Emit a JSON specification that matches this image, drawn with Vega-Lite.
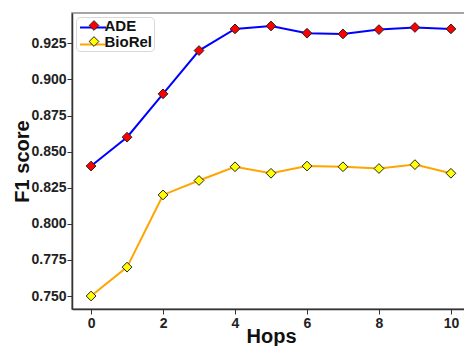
{
  "$schema": "https://vega.github.io/schema/vega-lite/v6.json",
  "width": 398,
  "height": 296,
  "padding": {"left": 12, "top": 13, "right": 0, "bottom": 0},
  "background": "white",
  "config": {
    "font": "Liberation Sans",
    "view": {"stroke": "#888888", "strokeWidth": 1.5},
    "axis": {
      "grid": false,
      "domainColor": "#333333",
      "domainWidth": 1.5,
      "tickColor": "#333333",
      "tickSize": 5,
      "tickWidth": 1,
      "labelFont": "Liberation Sans",
      "labelFontSize": 14,
      "labelFontWeight": "bold",
      "labelColor": "#222222",
      "titleFont": "Liberation Sans",
      "titleFontSize": 20,
      "titleFontWeight": "bold",
      "titleColor": "#111111"
    }
  },
  "data": {
    "values": [
      {"hops": 0, "series": "ADE", "f1": 0.840},
      {"hops": 1, "series": "ADE", "f1": 0.860},
      {"hops": 2, "series": "ADE", "f1": 0.890},
      {"hops": 3, "series": "ADE", "f1": 0.920},
      {"hops": 4, "series": "ADE", "f1": 0.935},
      {"hops": 5, "series": "ADE", "f1": 0.937},
      {"hops": 6, "series": "ADE", "f1": 0.932},
      {"hops": 7, "series": "ADE", "f1": 0.9315},
      {"hops": 8, "series": "ADE", "f1": 0.9345},
      {"hops": 9, "series": "ADE", "f1": 0.936},
      {"hops": 10, "series": "ADE", "f1": 0.935},
      {"hops": 0, "series": "BioRel", "f1": 0.750},
      {"hops": 1, "series": "BioRel", "f1": 0.770},
      {"hops": 2, "series": "BioRel", "f1": 0.820},
      {"hops": 3, "series": "BioRel", "f1": 0.830},
      {"hops": 4, "series": "BioRel", "f1": 0.8395},
      {"hops": 5, "series": "BioRel", "f1": 0.835},
      {"hops": 6, "series": "BioRel", "f1": 0.840},
      {"hops": 7, "series": "BioRel", "f1": 0.8395},
      {"hops": 8, "series": "BioRel", "f1": 0.8383},
      {"hops": 9, "series": "BioRel", "f1": 0.841},
      {"hops": 10, "series": "BioRel", "f1": 0.835}
    ]
  },
  "encoding": {
    "x": {
      "field": "hops",
      "type": "quantitative",
      "title": "Hops",
      "scale": {"domain": [-0.53, 10.53], "nice": false, "zero": false},
      "axis": {"values": [0, 2, 4, 6, 8, 10], "format": "d", "labelPadding": 2, "titlePadding": -4}
    },
    "y": {
      "field": "f1",
      "type": "quantitative",
      "title": "F1 score",
      "scale": {"domain": [0.741, 0.946], "nice": false, "zero": false},
      "axis": {"values": [0.75, 0.775, 0.8, 0.825, 0.85, 0.875, 0.9, 0.925], "format": ".3f", "labelPadding": 1, "titlePadding": -2}
    }
  },
  "layer": [
    {
      "transform": [{"filter": "datum.series === 'ADE'"}],
      "mark": {"type": "line", "strokeWidth": 2},
      "encoding": {
        "color": {
          "field": "series",
          "type": "nominal",
          "scale": {"range": ["#0000ff"]},
          "legend": {
            "title": null,
            "orient": "none",
            "legendX": 7,
            "legendY": 0.5,
            "padding": 0,
            "symbolType": "stroke",
            "symbolSize": 676,
            "symbolStrokeWidth": 2,
            "symbolOffset": 0,
            "labelExpr": "''",
            "labelFontSize": 15
          }
        }
      }
    },
    {
      "transform": [{"filter": "datum.series === 'BioRel'"}],
      "mark": {"type": "line", "strokeWidth": 2},
      "encoding": {
        "stroke": {
          "field": "series",
          "type": "nominal",
          "scale": {"range": ["#ffa500"]},
          "legend": {
            "title": null,
            "orient": "none",
            "legendX": 7,
            "legendY": 17.5,
            "padding": 0,
            "symbolType": "stroke",
            "symbolSize": 676,
            "symbolStrokeWidth": 2,
            "symbolOffset": 0,
            "labelExpr": "''",
            "labelFontSize": 15
          }
        }
      }
    },
    {
      "mark": {"type": "point", "shape": "diamond", "filled": true, "stroke": "#222222", "strokeWidth": 1, "size": 95, "opacity": 1},
      "encoding": {
        "fill": {
          "field": "series",
          "type": "nominal",
          "scale": {"domain": ["ADE", "BioRel"], "range": ["#ff0000", "#ffff00"]},
          "legend": {
            "title": null,
            "orient": "top-left",
            "offset": 4,
            "padding": 1,
            "strokeColor": "#d8d8d8",
            "cornerRadius": 4,
            "symbolType": "diamond",
            "symbolSize": 95,
            "symbolStrokeColor": "#222222",
            "symbolStrokeWidth": 1,
            "symbolOpacity": 1,
            "symbolOffset": 9.5,
            "labelFont": "Liberation Sans",
            "labelFontSize": 15,
            "labelFontWeight": "bold",
            "labelColor": "#111111",
            "labelOffset": 3,
            "rowPadding": 0
          }
        }
      }
    }
  ]
}
